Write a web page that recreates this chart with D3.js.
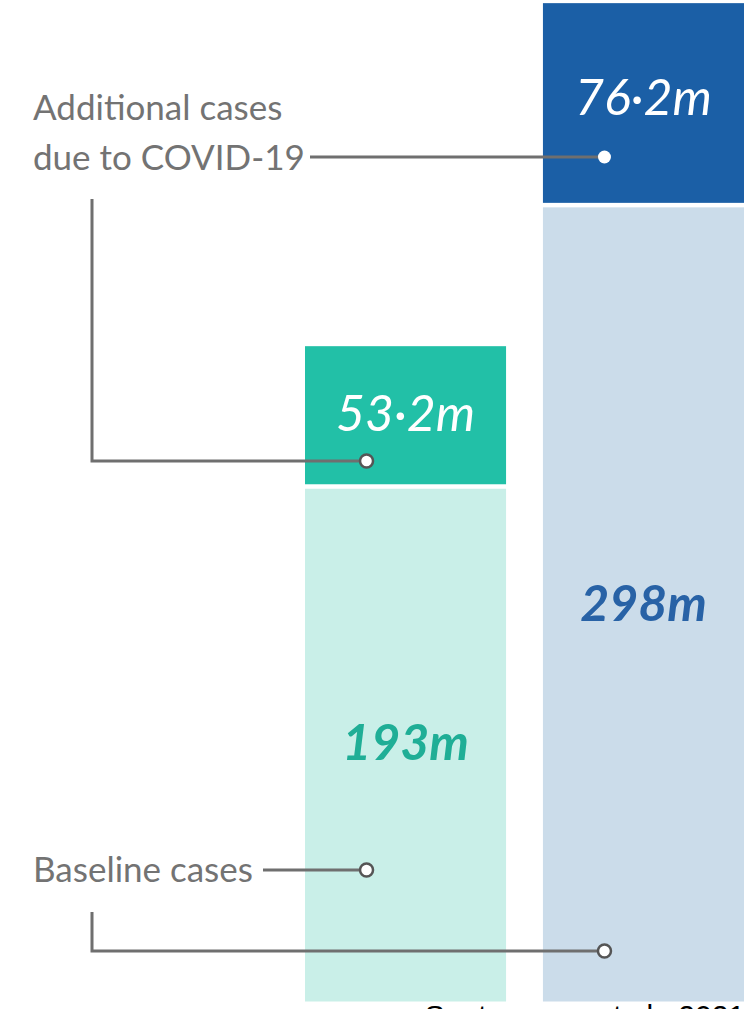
<!DOCTYPE html>
<html>
<head>
<meta charset="utf-8">
<script src="https://cdn.jsdelivr.net/npm/d3@7"></script>
<style>
  html, body { margin: 0; padding: 0; background: #ffffff; }
  svg { display: block; }
</style>
</head>
<body>
<svg id="chart" width="756" height="1009"></svg>
<script>
// ---- data ----
const categories = ["Major depressive disorder", "Anxiety disorders"];
const baselineCases = [193, 298];          // millions
const additionalCases = [53.2, 76.2];      // millions, due to COVID-19
const baselineLabels = ["193m", "298m"];
const additionalLabels = ["53·2m", "76·2m"];
const annotationAdditional = ["Additional cases", "due to COVID-19"];
const annotationBaseline = "Baseline cases";
const sourceText = "Santomauro et al., 2021";

// ---- styles ----
const colBase = ["#c9efe8", "#cbdcea"];
const colAdd = ["#22c0a7", "#1b5fa6"];
const colBaseText = ["#1fae96", "#2862a6"];
const lineColor = "#6f6f6f";
const labelColor = "#737373";

const W = 756, H = 1009;
const svg = d3.select("#chart");

const x = d3.scaleBand().domain(categories).range([305, 744]).paddingInner(0.155).paddingOuter(0);
const y = d3.scaleLinear().domain([0, 380]).range([1006, 1006 - 380 * 2.68]);
const gap = 4.5;

const rows = categories.map((c, i) => ({
  cat: c, i,
  base: baselineCases[i],
  add: additionalCases[i],
  total: baselineCases[i] + additionalCases[i]
}));

// baseline segments
svg.append("g").selectAll("rect").data(rows).join("rect")
  .attr("x", d => x(d.cat))
  .attr("width", x.bandwidth())
  .attr("y", d => y(d.base))
  .attr("height", d => y(0) - gap - y(d.base))
  .attr("fill", d => colBase[d.i]);

// additional segments
svg.append("g").selectAll("rect").data(rows).join("rect")
  .attr("x", d => x(d.cat))
  .attr("width", x.bandwidth())
  .attr("y", d => y(d.total))
  .attr("height", d => y(d.base) - gap - y(d.total))
  .attr("fill", d => colAdd[d.i]);

// value labels
const numFont = "Lato, 'Open Sans', sans-serif";
svg.append("g").selectAll("text").data(rows).join("text")
  .attr("x", d => x(d.cat) + x.bandwidth() / 2)
  .attr("y", (d, i) => [431, 115][i])
  .attr("text-anchor", "middle")
  .attr("font-family", numFont)
  .attr("font-style", "italic")
  .attr("font-size", 50)
  .attr("fill", "#ffffff")
  .text((d, i) => additionalLabels[i]);

svg.append("g").selectAll("text").data(rows).join("text")
  .attr("x", d => x(d.cat) + x.bandwidth() / 2)
  .attr("y", (d, i) => [760, 621][i])
  .attr("text-anchor", "middle")
  .attr("font-family", numFont)
  .attr("font-style", "italic")
  .attr("font-weight", 700)
  .attr("font-size", 50)
  .attr("fill", (d, i) => colBaseText[i])
  .text((d, i) => baselineLabels[i]);

// annotations
const dotX = i => x(categories[i]) + x.bandwidth() / 2 - 39;
const ann = svg.append("g")
  .attr("fill", "none")
  .attr("stroke", lineColor)
  .attr("stroke-width", 3);

ann.append("path").attr("d", `M310,157 H${dotX(1)}`);
ann.append("path").attr("d", `M92,199 V461 H${dotX(0)}`);
ann.append("path").attr("d", `M263,870 H${dotX(0)}`);
ann.append("path").attr("d", `M92,912 V951 H${dotX(1)}`);

const dots = [
  { cx: dotX(1), cy: 157, stroke: "none" },
  { cx: dotX(0), cy: 461, stroke: "#555555" },
  { cx: dotX(0), cy: 870, stroke: "#555555" },
  { cx: dotX(1), cy: 951, stroke: "#555555" }
];
svg.append("g").selectAll("circle").data(dots).join("circle")
  .attr("cx", d => d.cx).attr("cy", d => d.cy)
  .attr("r", d => d.stroke === "none" ? 6.5 : 6.5)
  .attr("fill", "#ffffff")
  .attr("stroke", d => d.stroke)
  .attr("stroke-width", 2.5);

const labFont = "Lato, 'Open Sans', sans-serif";
svg.append("g").selectAll("text").data(annotationAdditional).join("text")
  .attr("x", 33)
  .attr("y", (d, i) => 120 + i * 50)
  .attr("font-family", labFont)
  .attr("font-size", 35)
  .attr("fill", labelColor)
  .text(d => d);

svg.append("text")
  .attr("x", 33).attr("y", 882)
  .attr("font-family", labFont)
  .attr("font-size", 35)
  .attr("fill", labelColor)
  .text(annotationBaseline);

// source (cut off at the bottom edge)
svg.append("text")
  .attr("x", 745).attr("y", 1026)
  .attr("text-anchor", "end")
  .attr("font-family", "'Liberation Sans', Arial, sans-serif")
  .attr("font-size", 30)
  .attr("fill", "#000000")
  .text(sourceText);
</script>
</body>
</html>
